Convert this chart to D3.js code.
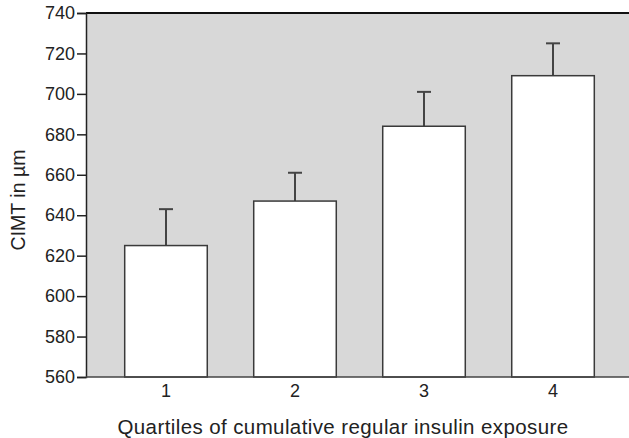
<!DOCTYPE html>
<html>
<head>
<meta charset="utf-8">
<script src="https://cdn.jsdelivr.net/npm/d3@7"></script>
<style>
  body { margin: 0; background: #fff; }
  text { font-family: "Liberation Sans", Arial, sans-serif; fill: #222; }
</style>
</head>
<body>
<script>
const quartiles = ["1", "2", "3", "4"];
const cimt = [625, 647, 684, 709];
const errUpper = [643, 661, 701, 725];
const yTicks = [560, 580, 600, 620, 640, 660, 680, 700, 720, 740];

const w = 629;
const h = 438;
const plotLeft = 86, plotTop = 13, plotBottom = 377;

const svg = d3.select("body")
  .append("svg")
  .attr("width", w)
  .attr("height", h);

const x = d3.scaleBand()
  .domain(quartiles)
  .range([plotLeft, 633])
  .paddingInner(0.36)
  .paddingOuter(0.3);

const y = d3.scaleLinear()
  .domain([560, 740])
  .range([plotBottom, plotTop]);

// gray plot background
svg.append("rect")
  .attr("x", plotLeft)
  .attr("y", plotTop)
  .attr("width", w - plotLeft)
  .attr("height", plotBottom - plotTop)
  .attr("fill", "#d8d8d8");

// top border
svg.append("line")
  .attr("x1", plotLeft).attr("x2", w)
  .attr("y1", plotTop).attr("y2", plotTop)
  .attr("stroke", "#111")
  .attr("stroke-width", 2);

// error bars (upper only)
svg.selectAll(".err")
  .data(quartiles)
  .enter()
  .append("g")
  .attr("class", "err")
  .each(function (d, i) {
    const cx = x(d) + x.bandwidth() / 2;
    const g = d3.select(this);
    g.append("line")
      .attr("x1", cx).attr("x2", cx)
      .attr("y1", y(cimt[i])).attr("y2", y(errUpper[i]))
      .attr("stroke", "#444").attr("stroke-width", 2);
    g.append("line")
      .attr("x1", cx - 7).attr("x2", cx + 7)
      .attr("y1", y(errUpper[i])).attr("y2", y(errUpper[i]))
      .attr("stroke", "#444").attr("stroke-width", 2);
  });

// bars
svg.selectAll(".bar")
  .data(quartiles)
  .enter()
  .append("rect")
  .attr("class", "bar")
  .attr("x", (d) => x(d))
  .attr("y", (d, i) => y(cimt[i]))
  .attr("width", x.bandwidth())
  .attr("height", (d, i) => plotBottom - y(cimt[i]))
  .attr("fill", "#fff")
  .attr("stroke", "#3a3a3a")
  .attr("stroke-width", 1.5);

// y axis
const yAxis = d3.axisLeft(y).tickValues(yTicks).tickSize(9).tickPadding(2);
const yg = svg.append("g")
  .attr("transform", "translate(" + plotLeft + ",0)")
  .call(yAxis);
yg.select(".domain").attr("stroke", "#222").attr("stroke-width", 1.5);
yg.selectAll(".tick line").attr("stroke", "#222").attr("stroke-width", 1.5);
yg.selectAll(".tick text").style("font-size", "18px").attr("fill", "#222");

// x axis
const xAxis = d3.axisBottom(x).tickSize(0).tickPadding(7);
const xg = svg.append("g")
  .attr("transform", "translate(0," + plotBottom + ")")
  .call(xAxis);
xg.select(".domain").attr("d", "M" + plotLeft + ",0H" + w).attr("stroke", "#444").attr("stroke-width", 1.5);
xg.selectAll(".tick text").style("font-size", "18px").attr("fill", "#222");

// axis titles
svg.append("text")
  .attr("x", 343)
  .attr("y", 434)
  .attr("text-anchor", "middle")
  .style("font-size", "20.5px")
  .style("letter-spacing", "0.4px")
  .text("Quartiles of cumulative regular insulin exposure");

svg.append("text")
  .attr("transform", "translate(25,200) rotate(-90)")
  .attr("text-anchor", "middle")
  .style("font-size", "19.5px")
  .text("CIMT in µm");
</script>
</body>
</html>
